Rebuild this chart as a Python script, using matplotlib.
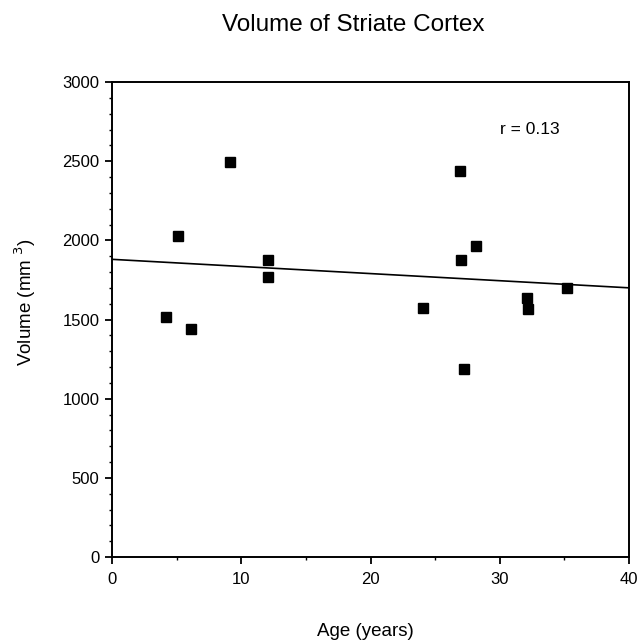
import matplotlib
matplotlib.use("Agg")
import matplotlib.pyplot as plt
from matplotlib.ticker import MultipleLocator

plt.rcParams['font.family'] = ['Liberation Sans', 'DejaVu Sans']

# Data
age = [4.2, 5.1, 6.1, 9.1, 12.1, 12.1, 24.1, 26.9, 27.0, 27.2, 28.2, 32.1, 32.2, 35.2]
volume = [1518, 2029, 1440, 2497, 1876, 1770, 1575, 2438, 1876, 1190, 1964, 1638, 1566, 1701]
fit_x = [0, 40]
fit_y = [1880, 1700]
x_ticks = [0, 10, 20, 30, 40]
y_ticks = [0, 500, 1000, 1500, 2000, 2500, 3000]

fig = plt.figure(figsize=(6.44, 6.43), dpi=100)
ax = fig.add_axes([112/644, 1-557/643, (629-112)/644, (557-82)/643])

ax.plot(fit_x, fit_y, color='black', lw=1.2, zorder=2)
ax.plot(age, volume, linestyle='none', marker='s', markersize=7.8,
        color='black', zorder=3)

ax.set_xlim(0, 40)
ax.set_ylim(0, 3000)
ax.set_xticks(x_ticks)
ax.set_yticks(y_ticks)
ax.xaxis.set_minor_locator(MultipleLocator(5))
ax.yaxis.set_minor_locator(MultipleLocator(100))
ax.tick_params(axis='both', which='major', direction='out', length=5, width=1.3,
               labelsize=12, colors='black')
ax.tick_params(axis='x', which='major', pad=6)
ax.tick_params(axis='y', which='major', pad=4)
ax.tick_params(axis='both', which='minor', direction='out', length=2.5, width=1.0)
for s in ax.spines.values():
    s.set_linewidth(1.4)
    s.set_color('black')

ax.text(32.3, 2697, 'r = 0.13', ha='center', va='center', fontsize=12.5)

fig.text(353/644, 1-25/643, 'Volume of Striate Cortex', ha='center', va='center',
         fontsize=17.5)
fig.text(365/644, 1-632/643, 'Age (years)', ha='center', va='center', fontsize=13.5)
fig.text(25/644, 1-302/643, 'Volume (mm $^{3}$)', ha='center', va='center',
         rotation=90, fontsize=13.5)

fig.savefig('out.png', dpi=100)
